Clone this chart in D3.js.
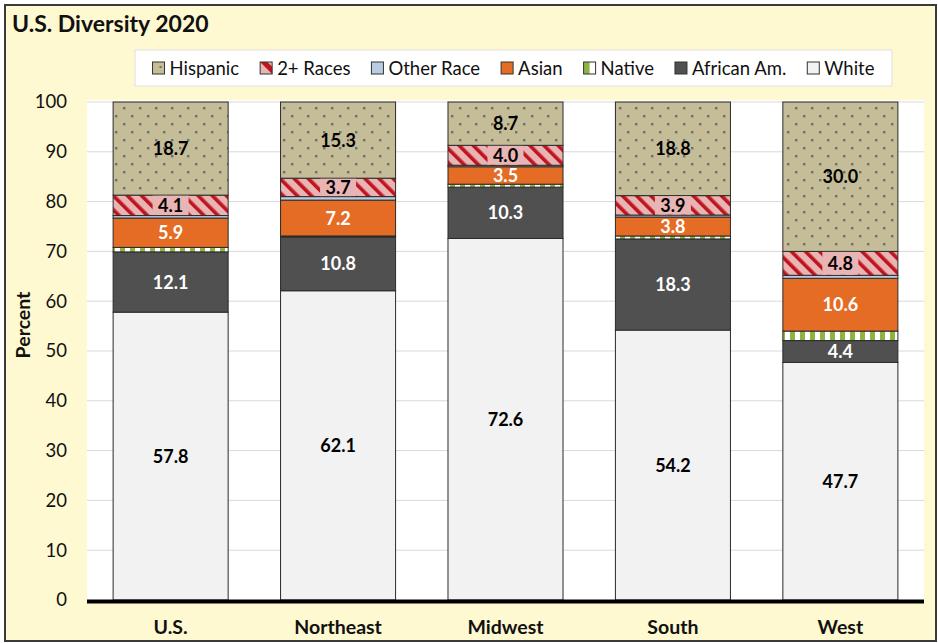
<!DOCTYPE html>
<html><head><meta charset="utf-8">
<script src="https://cdn.jsdelivr.net/npm/d3@7"></script>
<style>body{margin:0;background:#fff;} text{font-family:Lato,"Noto Sans",sans-serif;}</style>
</head><body>
<svg id="c" width="938" height="643"></svg>
<script>
const regions = ["U.S.", "Northeast", "Midwest", "South", "West"];
const seriesNames = ["White", "African Am.", "Native", "Asian", "Other Race", "2+ Races", "Hispanic"];
const white    = [57.8, 62.1, 72.6, 54.2, 47.7];
const african  = [12.1, 10.8, 10.3, 18.3, 4.4];
const native   = [0.9, 0.2, 0.6, 0.6, 1.9];
const asian    = [5.9, 7.2, 3.5, 3.8, 10.6];
const other    = [0.5, 0.7, 0.3, 0.4, 0.6];
const twoPlus  = [4.1, 3.7, 4.0, 3.9, 4.8];
const hispanic = [18.7, 15.3, 8.7, 18.8, 30.0];
const yTicks = [0, 10, 20, 30, 40, 50, 60, 70, 80, 90, 100];
const legendOrder = ["Hispanic", "2+ Races", "Other Race", "Asian", "Native", "African Am.", "White"];

const values = [white, african, native, asian, other, twoPlus, hispanic];
const table = regions.map((r, i) => {
  const o = {region: r};
  seriesNames.forEach((s, k) => o[s] = values[k][i]);
  return o;
});

const svg = d3.select("#c");
const defs = svg.append("defs");
const pd = defs.append("pattern").attr("id","pHisp").attr("patternUnits","userSpaceOnUse").attr("width",16).attr("height",16);
pd.append("rect").attr("width",16).attr("height",16).attr("fill","#C4BD97");
pd.append("rect").attr("x",3).attr("y",3).attr("width",2.4).attr("height",2.4).attr("fill","#6E6E6E");
pd.append("rect").attr("x",11).attr("y",11).attr("width",2.4).attr("height",2.4).attr("fill","#6E6E6E");
const ps = defs.append("pattern").attr("id","pTwo").attr("patternUnits","userSpaceOnUse").attr("width",10).attr("height",10).attr("patternTransform","rotate(-45)");
ps.append("rect").attr("width",10).attr("height",10).attr("fill","#E8B4B4");
ps.append("rect").attr("width",3.6).attr("height",10).attr("fill","#C0141E");
const pn = defs.append("pattern").attr("id","pNat").attr("patternUnits","userSpaceOnUse").attr("width",10).attr("height",10);
pn.append("rect").attr("width",10).attr("height",10).attr("fill","#FFFFFF");
pn.append("rect").attr("width",5).attr("height",10).attr("fill","#8DB443");

const fills = {
  "White": "#F2F2F2", "African Am.": "#505050", "Native": "url(#pNat)", "Asian": "#E46C24",
  "Other Race": "#B8CCE4", "2+ Races": "url(#pTwo)", "Hispanic": "url(#pHisp)"
};
const labelColor = {"White":"#000","African Am.":"#fff","Asian":"#fff","2+ Races":"#000","Hispanic":"#000"};

svg.append("rect").attr("x",5).attr("y",5).attr("width",931).attr("height",636)
  .attr("fill","#FEF9D0").attr("stroke","#3a3a3a").attr("stroke-width",2);
svg.append("text").attr("x",12).attr("y",32).attr("font-size",23).attr("font-weight","bold").attr("fill","#111").text("U.S. Diversity 2020");

const L = 87, R = 924, T = 102, B = 600;
const x = d3.scaleBand().domain(regions).range([L, R]).paddingInner(0.313).paddingOuter(0.156);
const y = d3.scaleLinear().domain([0, 100]).range([B, T]);

svg.append("rect").attr("x",L).attr("y",T-2).attr("width",R-L).attr("height",B-T+2).attr("fill","#fff");
svg.append("g").selectAll("line").data(yTicks.filter(t=>t>0)).join("line")
  .attr("x1",L).attr("x2",R).attr("y1",d=>y(d)).attr("y2",d=>y(d)).attr("stroke","#D9D9D9").attr("stroke-width",1);

const stack = d3.stack().keys(seriesNames)(table);
const g = svg.append("g");
stack.forEach(layer => {
  const key = layer.key;
  g.append("g").selectAll("rect").data(layer).join("rect")
    .attr("x", d => x(d.data.region)).attr("width", x.bandwidth())
    .attr("y", d => y(d[1])).attr("height", d => y(d[0]) - y(d[1]))
    .attr("fill", fills[key]).attr("stroke","#2b2b2b").attr("stroke-width",1);
});
stack.forEach(layer => {
  const key = layer.key;
  if (!(key in labelColor)) return;
  const lg = g.append("g");
  layer.forEach(d => {
    const cx = x(d.data.region) + x.bandwidth()/2;
    const cy = (y(d[0]) + y(d[1]))/2;
    const val = d[1]-d[0];
    if (key === "2+ Races") {
      lg.append("rect").attr("x",cx-18).attr("y",y(d[1])+0.5).attr("width",36).attr("height",y(d[0])-y(d[1])-1).attr("fill","#E8B4B4");
    }
    lg.append("text").attr("x",cx).attr("y",cy).attr("dy","0.36em").attr("text-anchor","middle")
      .attr("font-size",18).attr("font-weight","bold").attr("fill",labelColor[key]).text(val.toFixed(1));
  });
});

const yAxis = d3.axisLeft(y).tickValues(yTicks).tickSize(0).tickPadding(20);
const ya = svg.append("g").attr("transform",`translate(${L},0)`).call(yAxis);
ya.select(".domain").remove();
ya.selectAll("text").attr("font-size",18.5).attr("fill","#111").style("font-family","Lato, 'Noto Sans', sans-serif");
const xAxis = d3.axisBottom(x).tickSize(0).tickPadding(20);
const xa = svg.append("g").attr("transform",`translate(0,${B})`).call(xAxis);
xa.select(".domain").remove();
xa.selectAll("text").attr("font-size",19.5).attr("font-weight","bold").attr("fill","#111").style("font-family","Lato, 'Noto Sans', sans-serif");
svg.append("line").attr("x1",L).attr("x2",R).attr("y1",B+1.5).attr("y2",B+1.5).attr("stroke","#000").attr("stroke-width",4);

svg.append("text").attr("transform","translate(30,325) rotate(-90)").attr("text-anchor","middle")
  .attr("font-size",19.5).attr("font-weight","bold").attr("fill","#111").text("Percent");

svg.append("rect").attr("x",135).attr("y",50).attr("width",757).attr("height",36).attr("fill","#fff").attr("stroke","#E0E0E0");
const leg = svg.append("g");
const items = [];
const S = 12;
legendOrder.forEach(name => {
  const it = leg.append("g");
  const sw = it.append("g");
  if (name === "Native") {
    sw.append("rect").attr("width",S).attr("height",S).attr("fill","#fff");
    sw.append("rect").attr("width",S/2).attr("height",S).attr("fill","#8DB443");
  } else if (name === "2+ Races") {
    sw.append("rect").attr("width",S).attr("height",S).attr("fill","#E8B4B4");
    sw.append("path").attr("d",`M0,0 L${S*0.6},0 L${S},${S*0.4} L${S},${S} Z`).attr("fill","#C0141E");
  } else if (name === "Hispanic") {
    sw.append("rect").attr("width",S).attr("height",S).attr("fill","#C4BD97");
    sw.append("rect").attr("x",7).attr("y",4).attr("width",2).attr("height",2).attr("fill","#6E6E6E");
  } else {
    sw.append("rect").attr("width",S).attr("height",S).attr("fill",fills[name]);
  }
  sw.append("rect").attr("width",S).attr("height",S).attr("fill","none").attr("stroke","#333").attr("stroke-width",1);
  const t = it.append("text").attr("x",S+5).attr("y",S/2).attr("dy","0.36em").attr("font-size",18.5).attr("fill","#111").text(name);
  const w = S + 5 + t.node().getComputedTextLength();
  items.push({it, w});
});
const gap = 21;
const total = d3.sum(items, d=>d.w) + gap*(items.length-1);
let xs = 135 + (757 - total)/2;
items.forEach(d => { d.it.attr("transform",`translate(${xs},${62})`); xs += d.w + gap; });
</script>
</body></html>
